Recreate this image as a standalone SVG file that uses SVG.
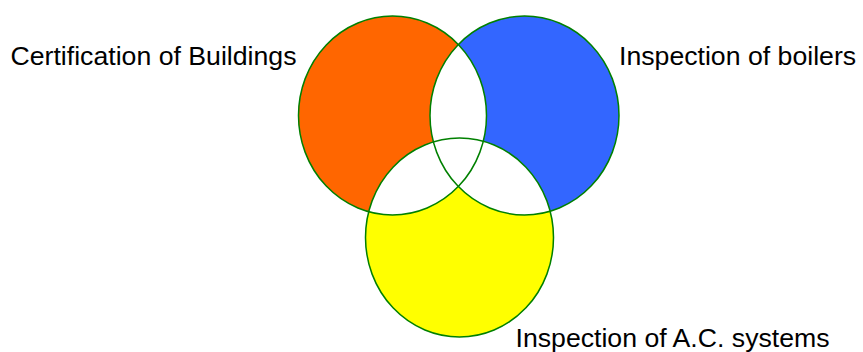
<svg xmlns="http://www.w3.org/2000/svg" width="863" height="352" viewBox="0 0 863 352">
<style>
.lbl{font-family:"Liberation Sans",Arial,sans-serif;font-size:26.67px;fill:#000}
.ol{fill:none;stroke:#008000;stroke-width:1.5}
.w{fill:#fff}
</style>
<defs>
<clipPath id="cA"><ellipse cx="392.5" cy="115.5" rx="94" ry="99.5"/></clipPath>
<clipPath id="cB"><ellipse cx="524.5" cy="115.5" rx="94.5" ry="99.5"/></clipPath>
</defs>
<rect width="863" height="352" fill="#fff"/>
<g id="certification">
<ellipse cx="392.5" cy="115.5" rx="94" ry="99.5" fill="#FF6600"/>
<text class="lbl" x="10.5" y="65">Certification of Buildings</text>
</g>
<g id="boilers">
<ellipse cx="524.5" cy="115.5" rx="94.5" ry="99.5" fill="#3366FF"/>
<text class="lbl" x="619" y="65">Inspection of boilers</text>
</g>
<g id="ac">
<ellipse cx="459.5" cy="237.5" rx="94" ry="99.5" fill="#FFFF00"/>
<text class="lbl" x="515.5" y="346.5">Inspection of A.C. systems</text>
</g>
<g id="overlaps">
<ellipse class="w" cx="524.5" cy="115.5" rx="94.5" ry="99.5" clip-path="url(#cA)"/>
<ellipse class="w" cx="459.5" cy="237.5" rx="94" ry="99.5" clip-path="url(#cA)"/>
<ellipse class="w" cx="459.5" cy="237.5" rx="94" ry="99.5" clip-path="url(#cB)"/>
</g>
<g id="outlines">
<ellipse class="ol" cx="392.5" cy="115.5" rx="94" ry="99.5"/>
<ellipse class="ol" cx="524.5" cy="115.5" rx="94.5" ry="99.5"/>
<ellipse class="ol" cx="459.5" cy="237.5" rx="94" ry="99.5"/>
</g>
</svg>
